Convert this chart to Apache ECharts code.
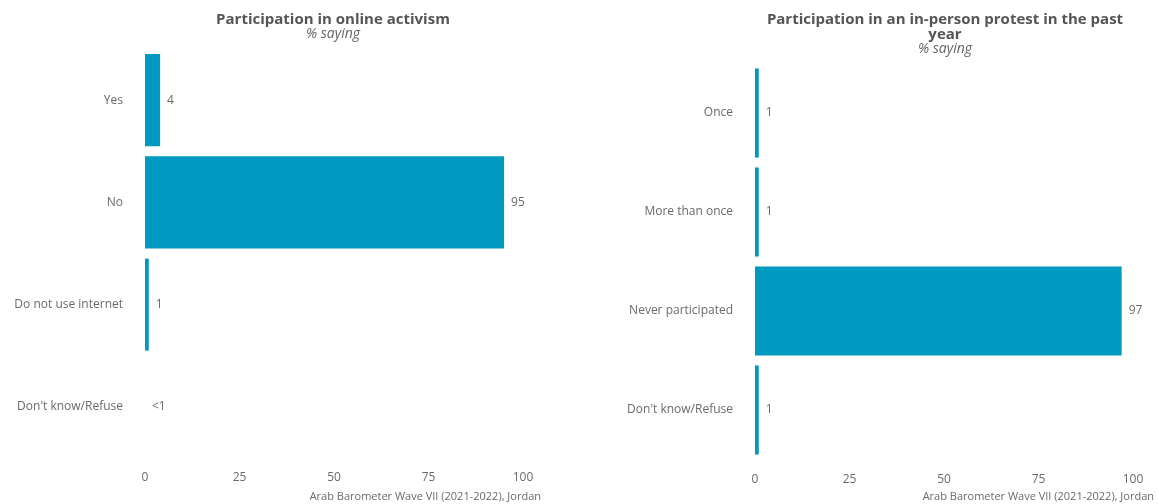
<!DOCTYPE html>
<html><head><meta charset="utf-8">
<script src="https://cdn.jsdelivr.net/npm/echarts@6/dist/echarts.min.js"></script>
<style>html,body{margin:0;padding:0;background:#fff}#c{width:1158px;height:504px}</style>
</head><body><div id="c"></div>
<script>
const onlineCategories = ["Yes", "No", "Do not use internet", "Don't know/Refuse"];
const onlineValues = [4, 95, 1, 0];
const onlineLabels = ["4", "95", "1", "<1"];

const protestCategories = ["Once", "More than once", "Never participated", "Don't know/Refuse"];
const protestValues = [1, 1, 97, 1];
const protestLabels = ["1", "1", "97", "1"];

const xTicks = [0, 25, 50, 75, 100];
const caption = "Arab Barometer Wave VII (2021-2022), Jordan";

const FONT = "'Open Sans', sans-serif";
const BAR = "#0099BF";
const TXT = "#6a6a6a";

const chart = echarts.init(document.getElementById('c'));

function xAxis(gi) {
  return {
    type: 'value', gridIndex: gi, min: 0, max: 100, interval: 25,
    axisLine: {show: false}, axisTick: {show: false}, splitLine: {show: false},
    axisLabel: {color: TXT, fontFamily: FONT, fontSize: 12, margin: 14,
      formatter: v => xTicks.includes(v) ? String(v) : ''}
  };
}
function yAxis(gi, cats) {
  return {
    type: 'category', gridIndex: gi, data: cats, inverse: true,
    axisLine: {show: false}, axisTick: {show: false}, splitLine: {show: false},
    axisLabel: {color: TXT, fontFamily: FONT, fontSize: 12, margin: 22}
  };
}
function series(gi, vals, labels) {
  return {
    type: 'bar', xAxisIndex: gi, yAxisIndex: gi, data: vals,
    barCategoryGap: '10%', itemStyle: {color: BAR},
    label: {show: true, position: 'right', distance: 7, color: TXT, fontFamily: FONT, fontSize: 12,
      formatter: p => labels[p.dataIndex]}
  };
}

chart.setOption({
  animation: false,
  title: [
    {text: 'Participation in online activism', subtext: '% saying', left: 333, top: 12, textAlign: 'center',
     itemGap: 0, padding: 0,
     textStyle: {fontFamily: FONT, fontSize: 15, fontWeight: 'bold', color: '#555'},
     subtextStyle: {fontFamily: FONT, fontSize: 14, fontStyle: 'italic', color: '#666'}},
    {text: 'Participation in an in-person protest in the past\nyear', subtext: '% saying', left: 945, top: 12, textAlign: 'center',
     itemGap: 0, padding: 0,
     textStyle: {fontFamily: FONT, fontSize: 15, fontWeight: 'bold', color: '#555', lineHeight: 15},
     subtextStyle: {fontFamily: FONT, fontSize: 14, fontStyle: 'italic', color: '#666'}},
    {text: caption, right: 617, top: 491, padding: 0, textStyle: {fontFamily: FONT, fontSize: 11, fontWeight: 'normal', color: '#6a6a6a'}},
    {text: caption, right: 4, top: 491, padding: 0, textStyle: {fontFamily: FONT, fontSize: 11, fontWeight: 'normal', color: '#6a6a6a'}}
  ],
  grid: [
    {left: 145, width: 378, top: 49, height: 409},
    {left: 755, width: 378, top: 63.5, height: 396}
  ],
  xAxis: [xAxis(0), xAxis(1)],
  yAxis: [yAxis(0, onlineCategories), yAxis(1, protestCategories)],
  series: [series(0, onlineValues, onlineLabels), series(1, protestValues, protestLabels)]
});
</script></body></html>
